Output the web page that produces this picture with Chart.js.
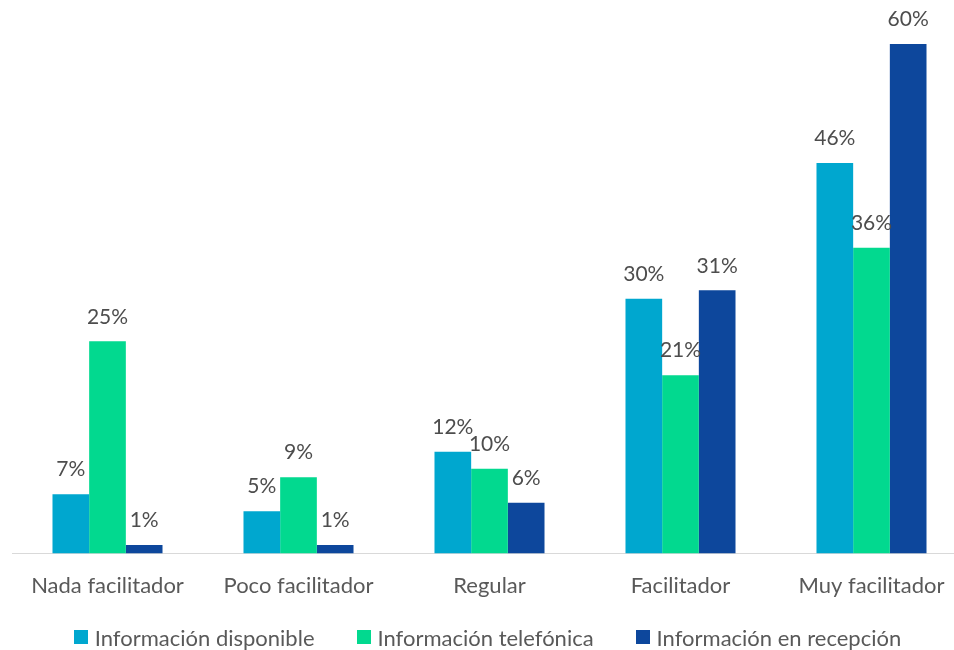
<!DOCTYPE html>
<html>
<head>
<meta charset="utf-8">
<script src="https://cdn.jsdelivr.net/npm/chart.js@4.4.0/dist/chart.umd.min.js"></script>
<style>
    html, body { margin: 0; padding: 0; background: #fff; overflow: hidden; }
    #wrap { position: relative; width: 967px; height: 650px; }
    #legend {
        position: absolute; left: 0; width: 975px; top: 624px; height: 26px;
        display: flex; justify-content: center; align-items: center; gap: 42px;
        font-family: Lato; font-size: 22px; color: #595959;
    }
    #legend span.item { display: flex; align-items: center; }
    #legend span.box { display: inline-block; width: 14px; height: 14px; margin-right: 7px; }
</style>
</head>
<body>
<div id="wrap"><canvas id="bar-chart"></canvas></div>
<div id="legend"></div>
<script>
var categories = ['Nada facilitador', 'Poco facilitador', 'Regular', 'Facilitador', 'Muy facilitador'];
var seriesNames = ['Información disponible', 'Información telefónica', 'Información en recepción'];
var disponible = [7, 5, 12, 30, 46];
var telefonica = [25, 9, 10, 21, 36];
var recepcion = [1, 1, 6, 31, 60];
var colors = ['#00A7CF', '#02D98F', '#0D479C'];

// labels like "25%" over each bar
var valueLabels = {
    id: 'valueLabels',
    afterDatasetsDraw: function(chart) {
        var ctx = chart.ctx;
        ctx.save();
        ctx.font = '21px Lato';
        ctx.fillStyle = '#4d4d4d';
        ctx.textAlign = 'center';
        ctx.textBaseline = 'bottom';
        chart.data.datasets.forEach(function(ds, i) {
            var meta = chart.getDatasetMeta(i);
            meta.data.forEach(function(bar, j) {
                ctx.fillText(ds.data[j] + '%', bar.x, bar.y - 14);
            });
        });
        ctx.restore();
    }
};

function buildLegend() {
    var html = '';
    for (let i = 0; i < seriesNames.length; i++) {
        html += '<span class="item"><span class="box" style="background:' + colors[i] + '"></span>' + seriesNames[i] + '</span>';
    }
    document.getElementById('legend').innerHTML = html;
}

function renderChart() {
    var ctx = document.getElementById('bar-chart').getContext('2d');
    new Chart(ctx, {
        type: 'bar',
        data: {
            labels: categories,
            datasets: [
                { label: seriesNames[0], data: disponible, backgroundColor: colors[0] },
                { label: seriesNames[1], data: telefonica, backgroundColor: colors[1] },
                { label: seriesNames[2], data: recepcion, backgroundColor: colors[2] }
            ]
        },
        options: {
            responsive: true,
            maintainAspectRatio: false,
            animation: false,
            layout: { padding: { top: 10, left: 12, right: 0, bottom: 40 } },
            datasets: { bar: { categoryPercentage: 0.576, barPercentage: 1.0 } },
            scales: {
                x: {
                    grid: { display: false },
                    border: { display: true, color: '#d9d9d9', width: 1 },
                    ticks: { color: '#595959', font: { family: 'Lato', size: 22 }, padding: 11 }
                },
                y: {
                    display: false,
                    min: 0,
                    max: 64
                }
            },
            plugins: {
                tooltip: { enabled: false },
                legend: { display: false }
            }
        },
        plugins: [valueLabels]
    });
}

document.addEventListener('DOMContentLoaded', function(event) {
    buildLegend();
    renderChart();
});
</script>
</body>
</html>
